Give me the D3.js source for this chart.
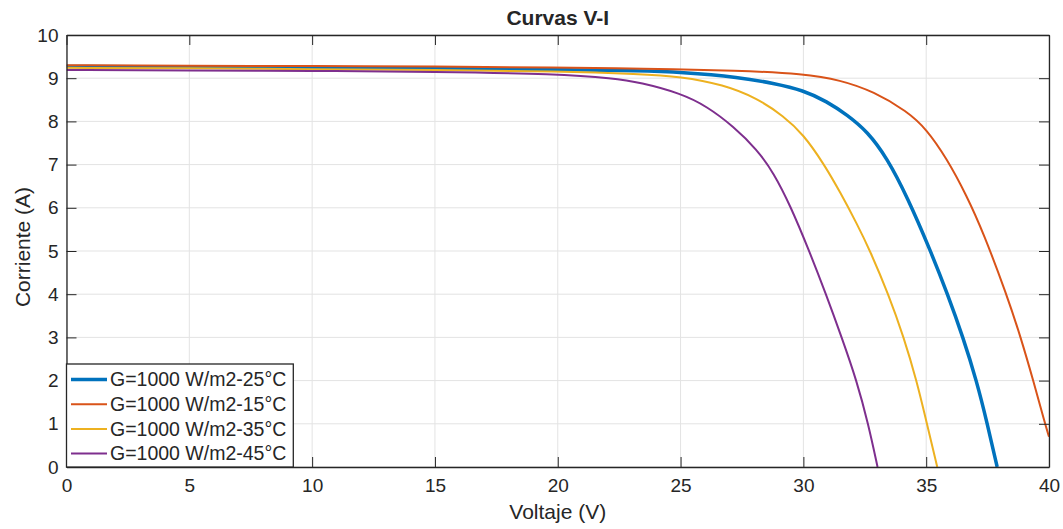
<!DOCTYPE html>
<html>
<head>
<meta charset="utf-8">
<script src="https://cdnjs.cloudflare.com/ajax/libs/d3/7.8.5/d3.min.js"></script>
<style>
  body { margin: 0; background: #fff; }
  text { font-family: Helvetica, "Liberation Sans", Arial, sans-serif; fill: #262626; }
</style>
</head>
<body>
<script>
// valores
var xTicks = [0, 5, 10, 15, 20, 25, 30, 35, 40];
var yTicks = [0, 1, 2, 3, 4, 5, 6, 7, 8, 9, 10];

var v25 = [0, 5, 10, 15, 20, 23.36, 25, 27.43, 28.79, 30, 30.96, 31.78, 32.6, 33.41, 34.23, 35.18, 35.87, 36.5, 37.05, 37.49, 37.89];
var i25 = [9.27, 9.26, 9.25, 9.23, 9.20, 9.17, 9.14, 9.02, 8.88, 8.72, 8.46, 8.15, 7.77, 7.15, 6.25, 5.0, 4.0, 3.0, 2.0, 1.0, 0];

var v15 = [0, 5, 10, 15, 20, 23.36, 27.43, 30, 31.5, 32.87, 34.23, 35, 35.84, 36.65, 37.33, 38.27, 38.85, 39.36, 39.84, 40];
var i15 = [9.30, 9.29, 9.28, 9.27, 9.25, 9.22, 9.18, 9.10, 8.96, 8.69, 8.23, 7.83, 7.14, 6.28, 5.42, 4.0, 3.0, 2.0, 1.0, 0.70];

var v35 = [0, 5, 10, 15, 20, 23.36, 25, 26.75, 28.11, 29.2, 30, 30.83, 31.5, 32.19, 32.72, 33.46, 34.09, 34.61, 35.03, 35.45];
var i35 = [9.24, 9.23, 9.21, 9.19, 9.16, 9.10, 9.04, 8.85, 8.54, 8.12, 7.70, 7.02, 6.36, 5.62, 5.0, 4.0, 3.0, 2.0, 1.0, 0];

var v45 = [0, 5, 10, 15, 20, 22.26, 23.36, 25, 26.07, 27.16, 28.11, 28.79, 29.47, 30.24, 30.92, 31.56, 32.17, 32.64, 33.02];
var i45 = [9.19, 9.18, 9.17, 9.15, 9.10, 9.0, 8.90, 8.65, 8.35, 7.88, 7.35, 6.81, 6.05, 5.0, 4.0, 3.0, 2.0, 1.0, 0];

var names = ["G=1000 W/m2-25°C", "G=1000 W/m2-15°C", "G=1000 W/m2-35°C", "G=1000 W/m2-45°C"];
var colors = ["#0072BD", "#D95319", "#EDB120", "#7E2F8E"];
var widths = [3.5, 2, 2, 2];

var series = [[v25, i25], [v15, i15], [v35, i35], [v45, i45]].map(function(s, k){
  return {
    name: names[k], color: colors[k], w: widths[k],
    pts: s[0].map(function(v, j){ return [v, s[1][j]]; })
  };
});

var width = 1063, height = 529;
var pL = 66.5, pR = 1049, pT = 35, pB = 467;

var x = d3.scaleLinear().domain([0, 40]).range([pL, pR]);
var y = d3.scaleLinear().domain([0, 10]).range([pB, pT]);

var svg = d3.select("body").append("svg")
  .attr("width", width)
  .attr("height", height);

svg.append("defs").append("clipPath").attr("id", "clip")
  .append("rect")
  .attr("x", pL).attr("y", pT)
  .attr("width", pR - pL).attr("height", pB - pT);

// rejilla
var grid = svg.append("g").attr("stroke", "#e3e3e3").attr("stroke-width", 1);
grid.selectAll(".gx").data(xTicks).enter().append("line")
  .attr("x1", function(d){ return x(d); }).attr("x2", function(d){ return x(d); })
  .attr("y1", pT).attr("y2", pB);
grid.selectAll(".gy").data(yTicks).enter().append("line")
  .attr("x1", pL).attr("x2", pR)
  .attr("y1", function(d){ return y(d); }).attr("y2", function(d){ return y(d); });

// curvas
var line = d3.line()
  .x(function(d){ return x(d[0]); })
  .y(function(d){ return y(d[1]); })
  .curve(d3.curveBasis);

svg.append("g").attr("clip-path", "url(#clip)")
  .selectAll("path").data(series).enter().append("path")
  .attr("fill", "none")
  .attr("stroke", function(d){ return d.color; })
  .attr("stroke-width", function(d){ return d.w; })
  .attr("d", function(d){ return line(d.pts); });

// ejes
var fs = "19px";
var xAxis = svg.append("g").attr("transform", "translate(0," + pB + ")")
  .call(d3.axisBottom(x).tickValues(xTicks).tickSize(-10).tickSizeOuter(0).tickPadding(12));
var yAxis = svg.append("g").attr("transform", "translate(" + pL + ",0)")
  .call(d3.axisLeft(y).tickValues(yTicks).tickSize(-10).tickSizeOuter(0).tickPadding(8));
var tAxis = svg.append("g").attr("transform", "translate(0," + pT + ")")
  .call(d3.axisTop(x).tickValues(xTicks).tickSize(-10).tickSizeOuter(0).tickFormat(""));
var rAxis = svg.append("g").attr("transform", "translate(" + pR + ",0)")
  .call(d3.axisRight(y).tickValues(yTicks).tickSize(-10).tickSizeOuter(0).tickFormat(""));

[xAxis, yAxis, tAxis, rAxis].forEach(function(a){
  a.selectAll("path").attr("stroke", "#262626").attr("stroke-width", 1.3);
  a.selectAll("line").attr("stroke", "#262626").attr("stroke-width", 1);
  a.selectAll("text").style("font-size", fs).attr("fill", "#262626")
    .style("font-family", "Helvetica, 'Liberation Sans', Arial, sans-serif");
});

// leyenda
var legend = svg.append("g");
legend.append("rect")
  .attr("x", pL).attr("y", 364)
  .attr("width", 293.3 - pL).attr("height", pB - 364)
  .attr("fill", "#fff").attr("stroke", "#262626").attr("stroke-width", 1.3);
var items = legend.selectAll(".item").data(series).enter().append("g")
  .attr("transform", function(d, k){ return "translate(0," + (379.5 + k * 24.7) + ")"; });
items.append("line")
  .attr("x1", 71).attr("x2", 107)
  .attr("stroke", function(d){ return d.color; })
  .attr("stroke-width", function(d){ return d.w; });
items.append("text")
  .attr("x", 110).attr("dy", "0.35em")
  .style("font-size", "19.5px")
  .text(function(d){ return d.name; });

// titulos
svg.append("text")
  .attr("x", (pL + pR) / 2).attr("y", 25)
  .attr("text-anchor", "middle")
  .style("font-size", "21px").style("font-weight", "bold")
  .attr("fill", "#000")
  .text("Curvas V-I");

svg.append("text")
  .attr("x", (pL + pR) / 2).attr("y", 519)
  .attr("text-anchor", "middle")
  .style("font-size", "21px")
  .text("Voltaje (V)");

svg.append("text")
  .attr("transform", "translate(30,247) rotate(-90)")
  .attr("text-anchor", "middle")
  .style("font-size", "21px")
  .text("Corriente (A)");
</script>
</body>
</html>
